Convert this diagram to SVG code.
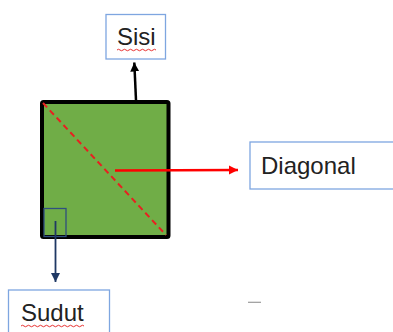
<svg xmlns="http://www.w3.org/2000/svg" width="393" height="332" viewBox="0 0 393 332">
<style>
.box{fill:#fff;stroke:#7EA6E0;stroke-width:1.3}
.lbl{font-family:"Liberation Sans",Arial,sans-serif;font-size:24px;fill:#222}
.squig{fill:none;stroke:#E83030;stroke-width:1}
</style>
<defs>
<marker id="ahBlack" markerUnits="userSpaceOnUse" markerWidth="10" markerHeight="10" viewBox="0 0 10 10" refX="9" refY="5" orient="auto"><path d="M0,0.5 L9,5 L0,9.5 Z" fill="#000"/></marker>
<marker id="ahRed" markerUnits="userSpaceOnUse" markerWidth="10" markerHeight="10" viewBox="0 0 10 10" refX="9" refY="5" orient="auto"><path d="M0,0.5 L9,5 L0,9.5 Z" fill="#FF0000"/></marker>
<marker id="ahNavy" markerUnits="userSpaceOnUse" markerWidth="10" markerHeight="10" viewBox="0 0 10 10" refX="9" refY="5" orient="auto"><path d="M0,0.5 L9,5 L0,9.5 Z" fill="#1F3864"/></marker>
</defs>
<rect width="393" height="332" fill="#fff"/>
<g id="square">
<rect x="42" y="102" width="126.5" height="135" rx="1.5" fill="#70AD47" stroke="#000" stroke-width="4"/>
<line x1="43" y1="103" x2="166" y2="235" stroke="#E82020" stroke-width="2" stroke-dasharray="6,4"/>
<rect x="44" y="208.5" width="22" height="28" fill="none" stroke="#2F4F7F" stroke-width="1.3"/>
</g>
<g id="sisi">
<rect class="box" x="106" y="14.5" width="59.5" height="44.5"/>
<text class="lbl" x="117" y="45">Sisi</text>
<path class="squig" d="M117,50 q1.5,-1.5 3,0 t3,0 t3,0 t3,0 t3,0 t3,0 t3,0 t3,0 t3,0 t3,0 t3,0 t3,0 t3,0"/>
</g>
<g id="diagonal">
<rect class="box" x="250" y="142" width="150" height="47"/>
<text class="lbl" x="261" y="174">Diagonal</text>
</g>
<g id="sudut">
<rect class="box" x="8.5" y="290" width="101" height="50"/>
<text class="lbl" x="21" y="321">Sudut</text>
<path class="squig" d="M21,326 q1.5,-1.5 3,0 t3,0 t3,0 t3,0 t3,0 t3,0 t3,0 t3,0 t3,0 t3,0 t3,0 t3,0 t3,0 t3,0 t3,0 t3,0 t3,0 t3,0 t3,0 t3,0 t3,0"/>
</g>
<g id="connectors">
<line x1="136" y1="100" x2="134.3" y2="62.5" stroke="#000" stroke-width="2.5" marker-end="url(#ahBlack)"/>
<line x1="115" y1="170.5" x2="238" y2="170" stroke="#FF0000" stroke-width="2.5" marker-end="url(#ahRed)"/>
<line x1="55.5" y1="221" x2="55.5" y2="282" stroke="#1F3864" stroke-width="1.8" marker-end="url(#ahNavy)"/>
</g>
<line x1="248" y1="302.3" x2="261" y2="302.3" stroke="#9A9A9A" stroke-width="1.2"/>
</svg>
